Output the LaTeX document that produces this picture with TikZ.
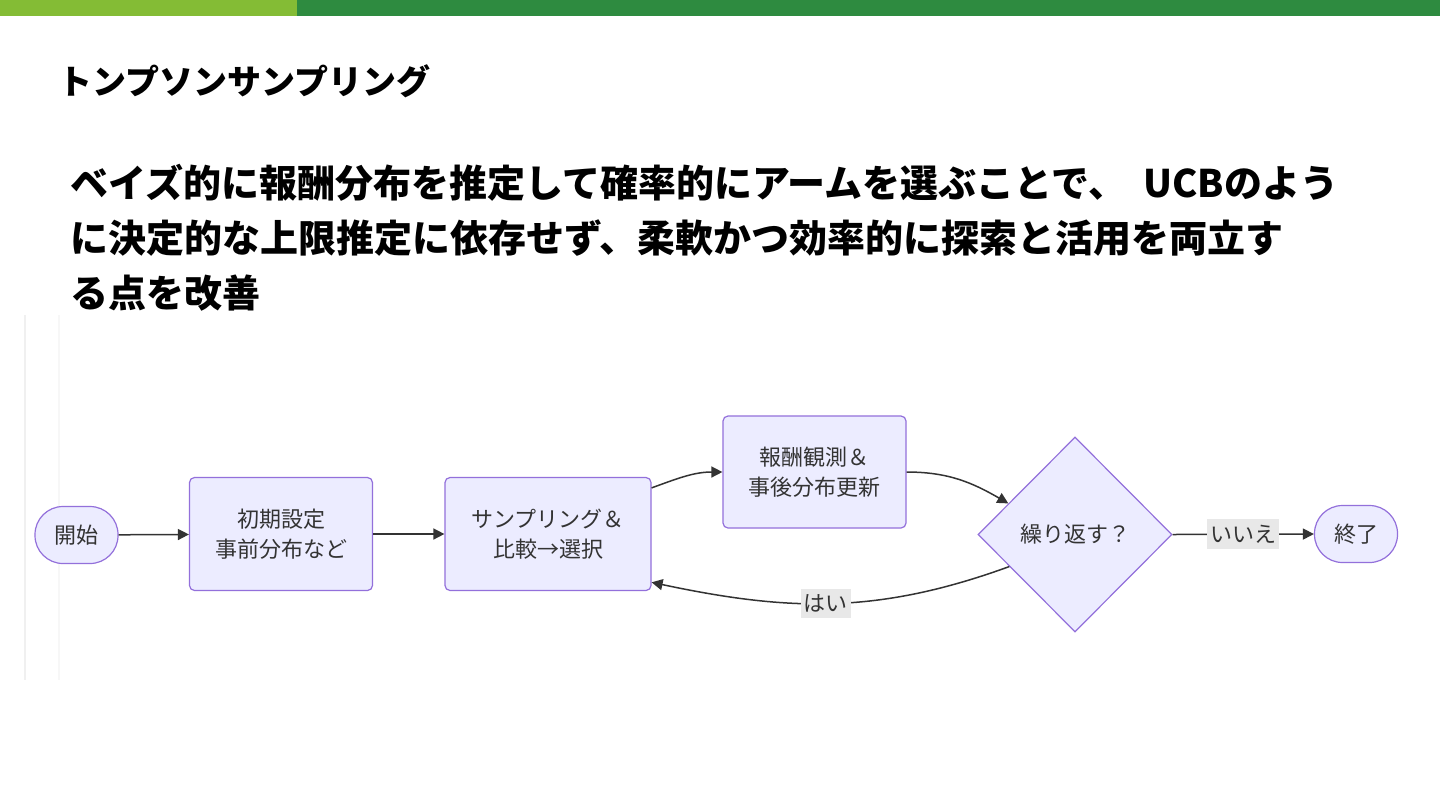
\documentclass[tikz,border=0pt]{standalone}
\usepackage{fontspec}
\newfontfamily\jp{Noto Sans CJK JP}
\usetikzlibrary{shapes.geometric,arrows.meta,calc}
\definecolor{lgreen}{HTML}{84BC35}
\definecolor{dgreen}{HTML}{2E8B40}
\definecolor{mmfill}{HTML}{ECECFF}
\definecolor{mmborder}{HTML}{9370DB}
\definecolor{mmline}{HTML}{333333}
\definecolor{lblbg}{HTML}{E8E8E8}
\tikzset{
  box/.style={draw=mmborder, fill=mmfill, line width=0.6pt, rounded corners=2.5pt, align=center,
    inner sep=0pt, text=mmline, font=\jp\fontsize{11}{15}\selectfont},
  stadium/.style={draw=mmborder, fill=mmfill, line width=0.6pt, rounded corners=14pt, align=center,
    inner sep=0pt, text=mmline, minimum width=41.5pt, minimum height=28.5pt, font=\jp\fontsize{11}{15}\selectfont},
  decision/.style={draw=mmborder, fill=mmfill, line width=0.6pt, diamond, inner sep=0pt, align=center,
    text=mmline, minimum width=97pt, minimum height=97.5pt, font=\jp\fontsize{11}{15}\selectfont},
  flow/.style={draw=mmline, line width=0.75pt, -{Triangle[length=5.5pt,width=5.5pt]}},
  elabel/.style={fill=lblbg, text=mmline, inner xsep=1.5pt, inner ysep=3pt, font=\jp\fontsize{11}{15}\selectfont},
  bodyline/.style={anchor=west, inner sep=0pt, font=\jp\bfseries\fontsize{19}{22}\selectfont},
}
\begin{document}
\begin{tikzpicture}[x=0.5pt,y=-0.5pt]
\useasboundingbox (0,0) rectangle (1440,810);
\fill[white] (0,0) rectangle (1440,810);
% top bars
\fill[lgreen] (0,0) rectangle (297,16);
\fill[dgreen] (297,0) rectangle (1440,16);
% faint frame on the left
\draw[black!6, line width=1pt] (25,315) -- (25,680);
\draw[black!3, line width=1pt] (59,315) -- (59,680);
% title
\node[anchor=west, inner sep=0pt, font=\jp\bfseries\fontsize{17}{20}\selectfont] (title) at (58,81) {トンプソンサンプリング};
% body
\node[bodyline] (body1) at (70,183) {ベイズ的に報酬分布を推定して確率的にアームを選ぶことで、\ \ UCBのよう};
\node[bodyline] (body2) at (70,238) {に決定的な上限推定に依存せず、柔軟かつ効率的に探索と活用を両立す};
\node[bodyline] (body3) at (70,293) {る点を改善};
% flowchart
\node[stadium] (start) at (76.5,535) {開始};
\node[box, minimum width=91.5pt, minimum height=56.5pt] (init) at (281,534) {初期設定\\事前分布など};
\node[box, minimum width=103pt, minimum height=56.5pt] (samp) at (548,534) {サンプリング＆\\比較→選択};
\node[box, minimum width=91.5pt, minimum height=56pt] (rew) at (814.5,472) {報酬観測＆\\事後分布更新};
\node[decision] (dec) at (1075,534.5) {繰り返す？};
\node[stadium] (end) at (1356,534) {終了};
\draw[flow] (start) -- (init);
\draw[flow] (init) -- (samp);
\draw[flow] (samp.24) to[out=20,in=180] (rew.west);
\draw[flow] (rew.east) to[out=0,in=150] (dec.155);
\draw[flow] (dec.206) to[out=200,in=-12] node[elabel, pos=0.52] (yes) {はい} (samp.-25);
\draw[flow] (dec.east) -- node[elabel] (no) {いいえ} (end.west);
\end{tikzpicture}
\end{document}
